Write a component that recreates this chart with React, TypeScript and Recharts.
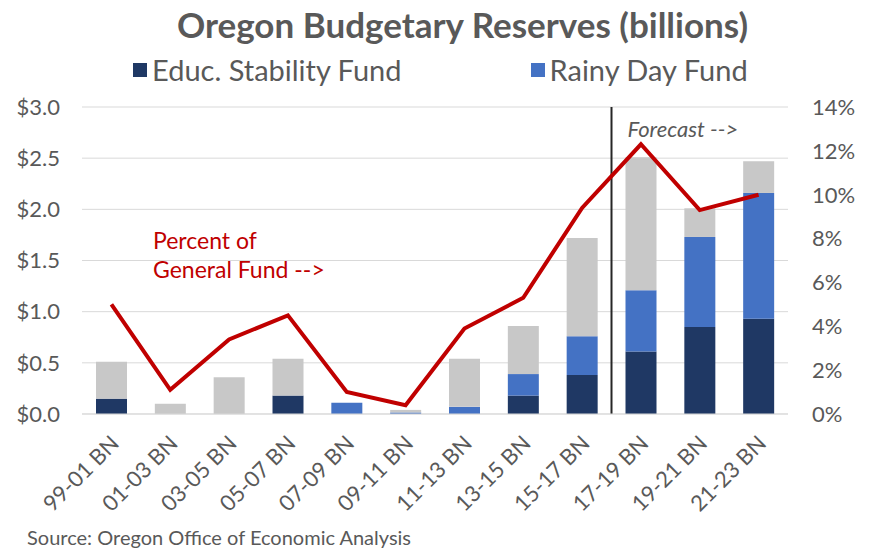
import {
  ComposedChart,
  Bar,
  Line,
  XAxis,
  YAxis,
  CartesianGrid,
  ReferenceLine,
} from "recharts";

const periods = [
  "99-01 BN",
  "01-03 BN",
  "03-05 BN",
  "05-07 BN",
  "07-09 BN",
  "09-11 BN",
  "11-13 BN",
  "13-15 BN",
  "15-17 BN",
  "17-19 BN",
  "19-21 BN",
  "21-23 BN",
];

// billions
const educStability = [0.15, 0, 0, 0.18, 0, 0, 0, 0.18, 0.38, 0.61, 0.85, 0.93];
const rainyDay = [0, 0, 0, 0, 0.11, 0.015, 0.07, 0.21, 0.38, 0.6, 0.88, 1.23];
const otherReserves = [0.36, 0.1, 0.36, 0.36, 0, 0.025, 0.47, 0.47, 0.96, 1.3, 0.28, 0.31];

// percent of general fund
const pctGeneralFund = [5.0, 1.1, 3.4, 4.5, 1.0, 0.4, 3.9, 5.3, 9.4, 12.3, 9.3, 10.0];

const leftTicks = [0, 0.5, 1, 1.5, 2, 2.5, 3];
const rightTicks = [0, 2, 4, 6, 8, 10, 12, 14];

const data = periods.map((p, i) => ({
  period: p,
  esf: educStability[i],
  rdf: rainyDay[i],
  other: otherReserves[i],
  pct: pctGeneralFund[i],
}));

const FONT = "Lato, 'Open Sans', sans-serif";
const GREY_TEXT = "#595959";
const NAVY = "#1F3864";
const BLUE = "#4472C4";
const LIGHT = "#C8C8C8";
const RED = "#C00000";

const XTick = (props: any) => {
  const { x, y, payload } = props;
  return (
    <g transform={`translate(${x + 4},${y + 18})`}>
      <text
        textAnchor="end"
        transform="rotate(-45)"
        fill={GREY_TEXT}
        fontSize={22}
        fontFamily={FONT}
        dy={7}
      >
        {payload.value}
      </text>
    </g>
  );
};

const ForecastLabel = (props: any) => {
  const { viewBox } = props;
  return (
    <text
      x={viewBox.x + 16}
      y={viewBox.y + 30}
      fill={GREY_TEXT}
      fontSize={22}
      fontStyle="italic"
      fontFamily={FONT}
    >
      Forecast --&gt;
    </text>
  );
};

const App = () => {
  return (
    <div
      style={{
        position: "absolute",
        left: 0,
        top: 0,
        width: 869,
        height: 550,
        background: "#fff",
        fontFamily: FONT,
      }}
    >
      <div
        style={{
          position: "absolute",
          top: 3,
          left: 0,
          width: 925,
          textAlign: "center",
          fontSize: 35,
          fontWeight: 700,
          color: GREY_TEXT,
        }}
      >
        Oregon Budgetary Reserves (billions)
      </div>
      <div
        style={{
          position: "absolute",
          top: 52,
          left: 133,
          display: "flex",
          alignItems: "center",
          fontSize: 29,
          color: GREY_TEXT,
        }}
      >
        <span style={{ width: 14, height: 14, background: NAVY, marginRight: 5 }} />
        <span style={{ marginRight: 129 }}>Educ. Stability Fund</span>
        <span style={{ width: 14, height: 14, background: BLUE, marginRight: 5 }} />
        <span>Rainy Day Fund</span>
      </div>
      <div
        style={{
          position: "absolute",
          top: 226,
          left: 153,
          fontSize: 23,
          lineHeight: "29px",
          color: RED,
        }}
      >
        Percent of
        <br />
        General Fund --&gt;
      </div>
      <div
        style={{
          position: "absolute",
          top: 525,
          left: 27,
          fontSize: 20,
          color: GREY_TEXT,
        }}
      >
        Source: Oregon Office of Economic Analysis
      </div>
      <ComposedChart
        width={869}
        height={550}
        data={data}
        margin={{ top: 107, right: 0, bottom: 0, left: 0 }}
        barSize={31}
        style={{ position: "absolute", left: 0, top: 0 }}
      >
        <CartesianGrid vertical={false} stroke="#D9D9D9" yAxisId="left" />
        <XAxis
          dataKey="period"
          height={136}
          interval={0}
          tick={<XTick />}
          tickLine={false}
          axisLine={{ stroke: "#D9D9D9" }}
        />
        <YAxis
          yAxisId="left"
          width={82}
          domain={[0, 3]}
          ticks={leftTicks}
          tickFormatter={(v: number) => `$${v.toFixed(1)}`}
          tick={{ fill: GREY_TEXT, fontSize: 22, fontFamily: FONT }}
          tickLine={false}
          axisLine={false}
          tickSize={0}
          tickMargin={22}
        />
        <YAxis
          yAxisId="right"
          orientation="right"
          width={81}
          domain={[0, 14]}
          ticks={rightTicks}
          tickFormatter={(v: number) => `${v}%`}
          tick={{ fill: GREY_TEXT, fontSize: 22, fontFamily: FONT, textAnchor: "start" }}
          tickLine={false}
          axisLine={false}
          tickSize={0}
          tickMargin={24}
        />
        <Bar yAxisId="left" dataKey="esf" stackId="a" fill={NAVY} name="Educ. Stability Fund" isAnimationActive={false} />
        <Bar yAxisId="left" dataKey="rdf" stackId="a" fill={BLUE} name="Rainy Day Fund" isAnimationActive={false} />
        <Bar yAxisId="left" dataKey="other" stackId="a" fill={LIGHT} name="Other Reserves" isAnimationActive={false} />
        <ReferenceLine
          yAxisId="left"
          x="17-19 BN"
          position="start"
          stroke="#262626"
          strokeWidth={2}
          label={<ForecastLabel />}
        />
        <Line
          yAxisId="right"
          type="linear"
          dataKey="pct"
          stroke={RED}
          strokeWidth={4}
          dot={false}
          activeDot={false}
          isAnimationActive={false}
        />
      </ComposedChart>
    </div>
  );
};

export default App;
